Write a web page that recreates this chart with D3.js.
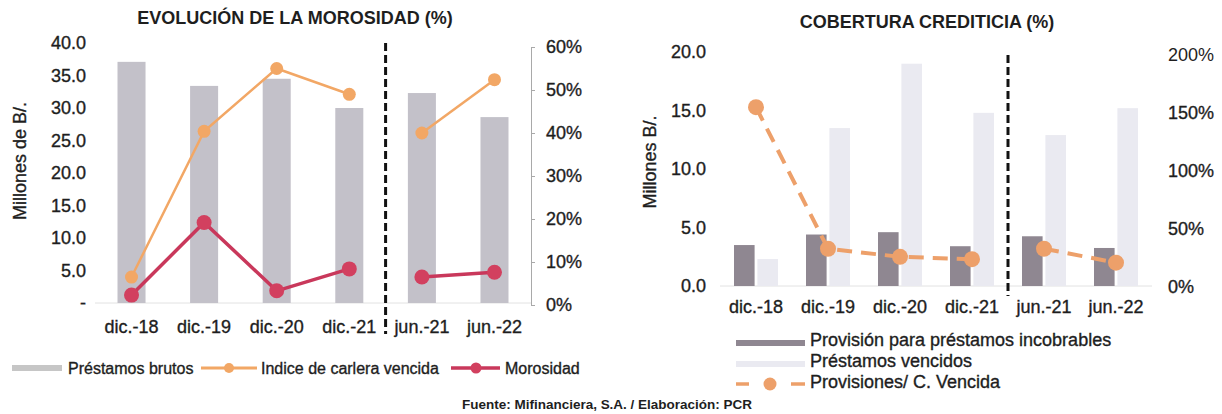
<!DOCTYPE html>
<html>
<head>
<meta charset="utf-8">
<script src="https://cdn.jsdelivr.net/npm/d3@7"></script>
<style>
  html, body { margin: 0; padding: 0; background: #fff; }
  svg { display: block; }
  text { font-family: "Liberation Sans", Arial, sans-serif; fill: #1e1e1e; }
  text.peso { stroke: #1e1e1e; stroke-width: 0.35px; }
</style>
</head>
<body>
<svg id="chart" width="1222" height="414"></svg>
<script>
// ---------- Datos ----------
const categorias = ["dic.-18", "dic.-19", "dic.-20", "dic.-21", "jun.-21", "jun.-22"];
const periodo = ["dic", "dic", "dic", "dic", "jun", "jun"];

// Evolución de la morosidad
const prestamosBrutos = [37.1, 33.4, 34.5, 30.0, 32.3, 28.6];      // millones de B/.
const indiceCarteraVencida = [6.5, 40.4, 55.0, 49.0, 40.0, 52.4];  // %
const morosidad = [2.3, 19.2, 3.3, 8.4, 6.5, 7.6];                 // %
const ticksMillonesIzq = [0, 5, 10, 15, 20, 25, 30, 35, 40];
const ticksPctIzq = [0, 10, 20, 30, 40, 50, 60];

// Cobertura crediticia
const provisionIncobrables = [3.5, 4.4, 4.6, 3.4, 4.25, 3.25];     // millones de B/.
const prestamosVencidos = [2.3, 13.5, 19.0, 14.8, 12.9, 15.2];     // millones de B/.
const provisionesCVencida = [155, 33, 26, 24, 33, 21];             // %
const ticksMillonesDer = [0, 5, 10, 15, 20];
const ticksPctDer = [0, 50, 100, 150, 200];

// ---------- Estilos ----------
const COL = {
  bruto: "#C3C1C9",
  brutoLeyenda: "#C6C6C6",
  naranja: "#F2A765",
  rojo: "#C9385B",
  rojoPunto: "#D2405F",
  provision: "#8F8791",
  vencidos: "#EAEAF1",
  cobertura: "#EDA06A",
  eje: "#A9A9A9",
  base: "#E2E2E2",
  divisor: "#111"
};
const FS = 18;

const svg = d3.select("#chart");
const idx = d3.range(categorias.length);
const tramos = d3.groups(idx, i => periodo[i]).map(d => d[1]);

function limpiarEje(g) {
  g.select(".domain").remove();
  g.selectAll("text").attr("font-size", FS).attr("font-family", null)
    .attr("fill", "#1e1e1e").attr("class", "peso");
}

// =====================================================
// Gráfico 1: Evolución de la morosidad
// =====================================================
const g1 = svg.append("g");
const x1 = d3.scaleBand().domain(categorias).range([95, 531]).paddingInner(0.614).paddingOuter(0.31);
const y1 = d3.scaleLinear().domain([0, 40]).range([303, 43]);
const y1p = d3.scaleLinear().domain([0, 60]).range([305, 47]);
const cx1 = c => x1(c) + x1.bandwidth() / 2;

g1.append("text")
  .attr("x", 295).attr("y", 24)
  .attr("text-anchor", "middle")
  .attr("font-weight", "bold").attr("font-size", 18)
  .text("EVOLUCIÓN DE LA MOROSIDAD (%)");

g1.append("line")
  .attr("x1", 95).attr("x2", 531)
  .attr("y1", y1(0)).attr("y2", y1(0))
  .attr("stroke", COL.base);

g1.selectAll("rect.bruto")
  .data(idx).join("rect")
  .attr("class", "bruto")
  .attr("x", i => x1(categorias[i]))
  .attr("width", x1.bandwidth())
  .attr("y", i => y1(prestamosBrutos[i]))
  .attr("height", i => y1(0) - y1(prestamosBrutos[i]))
  .attr("fill", COL.bruto);

// eje izquierdo
g1.append("g").attr("transform", "translate(90,0)")
  .call(d3.axisLeft(y1).tickValues(ticksMillonesIzq).tickSize(0).tickPadding(4)
    .tickFormat(d => d === 0 ? "-" : d3.format(".1f")(d)))
  .call(limpiarEje);

// eje derecho (%)
g1.append("g").attr("transform", "translate(531,0)")
  .call(d3.axisRight(y1p).tickValues(ticksPctIzq).tickSize(4).tickPadding(11)
    .tickFormat(d => d + "%"))
  .call(g => {
    g.select(".domain").attr("stroke", COL.eje);
    g.selectAll(".tick line").attr("stroke", COL.eje);
    g.selectAll("text").attr("font-size", FS).attr("font-family", null)
      .attr("fill", "#1e1e1e").attr("class", "peso");
  });

// eje de categorías
g1.append("g").attr("transform", `translate(0,${y1(0)})`)
  .call(d3.axisBottom(x1).tickSize(0).tickPadding(17))
  .call(limpiarEje);

g1.append("text")
  .attr("class", "peso")
  .attr("transform", "translate(26,161) rotate(-90)")
  .attr("text-anchor", "middle").attr("font-size", FS)
  .text("Millones de B/.");

// divisor entre cierres anuales y semestrales
const div1 = (cx1("dic.-21") + cx1("jun.-21")) / 2;
g1.append("line")
  .attr("x1", div1).attr("x2", div1).attr("y1", 43).attr("y2", 334)
  .attr("stroke", COL.divisor).attr("stroke-width", 3).attr("stroke-dasharray", "8,4");

function serieLinea(g, valores, escalaY, color, ancho, radio, colorPunto) {
  const linea = d3.line().x(i => cx1(categorias[i])).y(i => escalaY(valores[i]));
  g.selectAll(null).data(tramos).join("path")
    .attr("d", linea).attr("fill", "none")
    .attr("stroke", color).attr("stroke-width", ancho);
  g.selectAll(null).data(idx).join("circle")
    .attr("cx", i => cx1(categorias[i])).attr("cy", i => escalaY(valores[i]))
    .attr("r", radio).attr("fill", colorPunto);
}
serieLinea(g1, indiceCarteraVencida, y1p, COL.naranja, 2.5, 6.5, COL.naranja);
serieLinea(g1, morosidad, y1p, COL.rojo, 3.5, 7.5, COL.rojoPunto);

// leyenda
const ley1 = g1.append("g").attr("transform", "translate(0,368)");
ley1.append("rect").attr("x", 12).attr("y", -3).attr("width", 50).attr("height", 6).attr("fill", COL.brutoLeyenda);
ley1.append("text").attr("class", "peso").attr("x", 68).attr("y", 5.5).attr("font-size", 16).text("Préstamos brutos");
ley1.append("line").attr("x1", 201).attr("x2", 257).attr("y1", 0).attr("y2", 0).attr("stroke", COL.naranja).attr("stroke-width", 3);
ley1.append("circle").attr("cx", 229).attr("cy", 0).attr("r", 5).attr("fill", COL.naranja);
ley1.append("text").attr("class", "peso").attr("x", 261).attr("y", 5.5).attr("font-size", 16).text("Indice de carlera vencida");
ley1.append("line").attr("x1", 451).attr("x2", 500).attr("y1", 0).attr("y2", 0).attr("stroke", COL.rojo).attr("stroke-width", 3.5);
ley1.append("circle").attr("cx", 476).attr("cy", 0).attr("r", 5.5).attr("fill", COL.rojoPunto);
ley1.append("text").attr("class", "peso").attr("x", 505).attr("y", 5.5).attr("font-size", 16).text("Morosidad");

// =====================================================
// Gráfico 2: Cobertura crediticia
// =====================================================
const g2 = svg.append("g");
const x2 = d3.scaleBand().domain(categorias).range([720, 1152]).padding(0);
const x2s = d3.scaleBand().domain(["provision", "vencidos"]).range([-22, 22]).paddingInner(0.12);
const y2 = d3.scaleLinear().domain([0, 20]).range([286, 52]);
const y2p = d3.scaleLinear().domain([0, 200]).range([287, 55]);
const cx2 = c => x2(c) + x2.bandwidth() / 2;

g2.append("text")
  .attr("x", 927).attr("y", 28)
  .attr("text-anchor", "middle")
  .attr("font-weight", "bold").attr("font-size", 18)
  .text("COBERTURA CREDITICIA (%)");

g2.append("line")
  .attr("x1", 720).attr("x2", 1152)
  .attr("y1", y2(0)).attr("y2", y2(0))
  .attr("stroke", COL.base);

g2.selectAll("rect.vencidos")
  .data(idx).join("rect")
  .attr("class", "vencidos")
  .attr("x", i => cx2(categorias[i]) + x2s("vencidos"))
  .attr("width", x2s.bandwidth())
  .attr("y", i => y2(prestamosVencidos[i]))
  .attr("height", i => y2(0) - y2(prestamosVencidos[i]))
  .attr("fill", COL.vencidos);

g2.selectAll("rect.provision")
  .data(idx).join("rect")
  .attr("class", "provision")
  .attr("x", i => cx2(categorias[i]) + x2s("provision"))
  .attr("width", x2s.bandwidth())
  .attr("y", i => y2(provisionIncobrables[i]))
  .attr("height", i => y2(0) - y2(provisionIncobrables[i]))
  .attr("fill", COL.provision);

g2.append("g").attr("transform", "translate(710,0)")
  .call(d3.axisLeft(y2).tickValues(ticksMillonesDer).tickSize(0).tickPadding(4)
    .tickFormat(d3.format(".1f")))
  .call(limpiarEje);

g2.append("g").attr("transform", "translate(1152,0)")
  .call(d3.axisRight(y2p).tickValues(ticksPctDer).tickSize(0).tickPadding(16)
    .tickFormat(d => d + "%"))
  .call(limpiarEje)
  .call(g => g.selectAll(".tick").filter(d => d === 200).select("text")
    .attr("fill", "#6a6a6a").attr("class", null));

g2.append("g").attr("transform", `translate(0,${y2(0)})`)
  .call(d3.axisBottom(x2).tickSize(0).tickPadding(14))
  .call(limpiarEje);

g2.append("text")
  .attr("class", "peso")
  .attr("transform", "translate(656,162) rotate(-90)")
  .attr("text-anchor", "middle").attr("font-size", FS)
  .text("Millones B/.");

const div2 = (cx2("dic.-21") + cx2("jun.-21")) / 2;
g2.append("line")
  .attr("x1", div2).attr("x2", div2).attr("y1", 55).attr("y2", 296)
  .attr("stroke", COL.divisor).attr("stroke-width", 3).attr("stroke-dasharray", "8,4");

const linea2 = d3.line().x(i => cx2(categorias[i])).y(i => y2p(provisionesCVencida[i]));
g2.selectAll(null).data(tramos).join("path")
  .attr("d", linea2).attr("fill", "none")
  .attr("stroke", COL.cobertura).attr("stroke-width", 4)
  .attr("stroke-dasharray", "15,9");
g2.selectAll(null).data(idx).join("circle")
  .attr("cx", i => cx2(categorias[i])).attr("cy", i => y2p(provisionesCVencida[i]))
  .attr("r", 8).attr("fill", COL.cobertura);

// leyenda
const ley2 = g2.append("g").attr("transform", "translate(0,343)");
ley2.append("rect").attr("x", 736).attr("y", -3).attr("width", 69).attr("height", 6).attr("fill", COL.provision);
ley2.append("text").attr("class", "peso").attr("x", 810).attr("y", 3).attr("font-size", FS).text("Provisión para préstamos incobrables");
ley2.append("rect").attr("x", 736).attr("y", 18).attr("width", 69).attr("height", 6).attr("fill", COL.vencidos);
ley2.append("text").attr("class", "peso").attr("x", 810).attr("y", 24).attr("font-size", FS).text("Préstamos vencidos");
ley2.append("line").attr("x1", 736).attr("x2", 749).attr("y1", 41).attr("y2", 41).attr("stroke", COL.cobertura).attr("stroke-width", 3.5);
ley2.append("line").attr("x1", 791).attr("x2", 805).attr("y1", 41).attr("y2", 41).attr("stroke", COL.cobertura).attr("stroke-width", 3.5);
ley2.append("circle").attr("cx", 770).attr("cy", 41).attr("r", 6.5).attr("fill", COL.cobertura);
ley2.append("text").attr("class", "peso").attr("x", 810).attr("y", 45).attr("font-size", FS).text("Provisiones/ C. Vencida");

// fuente
svg.append("text")
  .attr("x", 607).attr("y", 409)
  .attr("text-anchor", "middle")
  .attr("font-family", "Lato, 'Open Sans', sans-serif")
  .attr("font-weight", "bold").attr("font-size", 12.5)
  .attr("textLength", 290).attr("lengthAdjust", "spacingAndGlyphs")
  .text("Fuente: Mifinanciera, S.A. / Elaboración: PCR");
</script>
</body>
</html>
